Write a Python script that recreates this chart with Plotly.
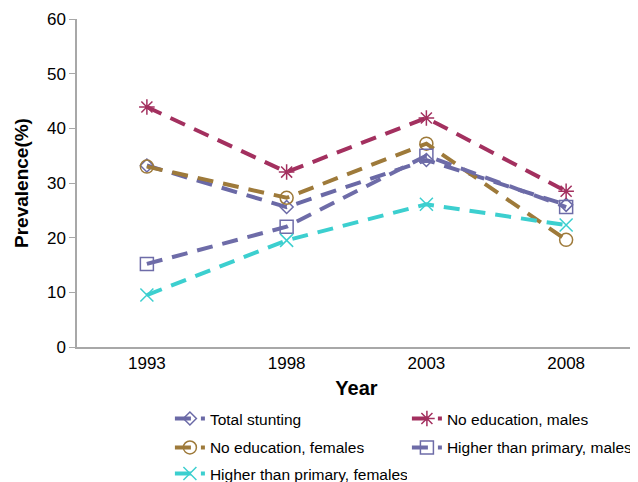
import plotly.graph_objects as go

years = ["1993", "1998", "2003", "2008"]
total_stunting = [33.2, 25.6, 34.2, 26.0]
no_edu_males = [43.9, 32.0, 41.9, 28.5]
no_edu_females = [33.0, 27.3, 37.2, 19.6]
higher_males = [15.2, 22.0, 35.0, 25.6]
higher_females = [9.5, 19.5, 26.1, 22.3]

series = [
    ("Total stunting", total_stunting, "#6A69A6", "diamond-open", 10, "legend"),
    ("No education, males", no_edu_males, "#A3305F", "asterisk-open", 13, "legend"),
    ("No education, females", no_edu_females, "#9E7A3A", "circle-open", 13, "legend2"),
    ("Higher than primary, males", higher_males, "#6E6CA8", "square-open", 13, "legend2"),
    ("Higher than primary, females", higher_females, "#3CCFCF", "x-thin-open", 13, "legend3"),
]

fig = go.Figure()
for name, vals, color, sym, size, lg in series:
    fig.add_trace(go.Scatter(
        x=years, y=vals, name=name, mode="lines+markers", legend=lg,
        line=dict(color=color, width=4, dash="16px,10px"),
        marker=dict(symbol=sym, size=size, color=color, line=dict(color=color, width=1.5)),
    ))

legend_common = dict(orientation="h", xanchor="left", yanchor="middle",
                     xref="container", yref="container",
                     entrywidth=192, entrywidthmode="pixels",
                     font=dict(size=15.5), traceorder="normal",
                     bgcolor="rgba(0,0,0,0)")

# page has an 8px body margin, so the figure is sized 630x474 to fill the window
fig.update_layout(
    width=630, height=474,
    margin=dict(l=69, r=2, t=11, b=135),
    plot_bgcolor="white", paper_bgcolor="white",
    font=dict(family="Liberation Sans, Arial, sans-serif", size=17, color="black"),
    showlegend=True,
    legend=dict(x=0.257, y=0.133, **legend_common),
    legend2=dict(x=0.257, y=0.072, **legend_common),
    legend3=dict(x=0.257, y=0.017, **legend_common),
    xaxis=dict(type="category", range=[-0.5, 3.5], showline=True, linecolor="#A8A8A8",
               linewidth=1.5, ticks="", showgrid=False, tickfont=dict(size=17),
               automargin=False,
               title=dict(text="<b>Year</b>", font=dict(size=20), standoff=9)),
    yaxis=dict(range=[0, 60], dtick=10, showline=True, linecolor="#A8A8A8", linewidth=1.5,
               ticks="outside", ticklen=6, tickcolor="#A8A8A8", showgrid=False,
               tickfont=dict(size=17), zeroline=False, automargin=False,
               title=dict(text="<b>Prevalence(%)</b>", font=dict(size=19), standoff=13)),
)

fig.write_html("out.html")
